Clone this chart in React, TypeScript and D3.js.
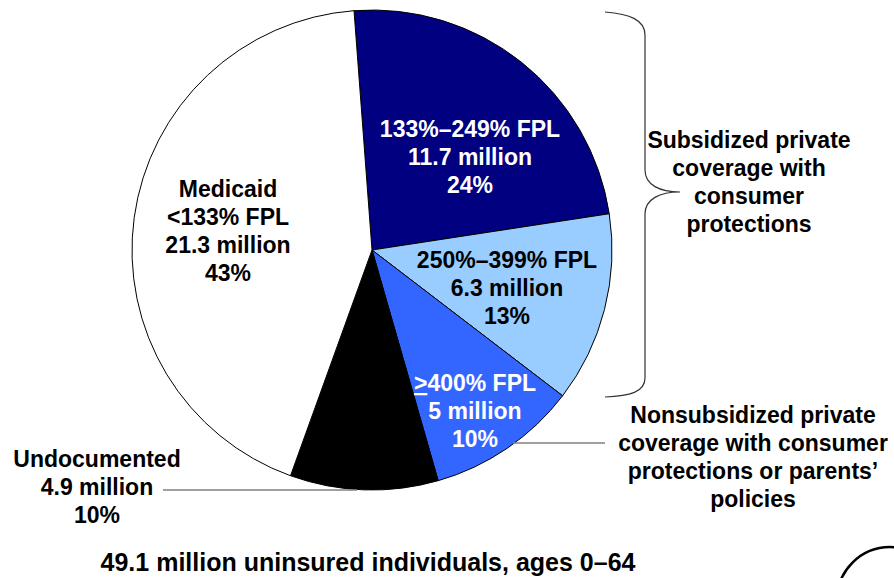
import React from 'react';
import * as d3 from 'd3';

const W = 894;
const H = 578;

// slices, clockwise from the top
const categories = ['133%–249% FPL', '250%–399% FPL', '>400% FPL', 'Undocumented', 'Medicaid'];
const millions = [11.7, 6.3, 5, 4.9, 21.3];
const shares = ['24%', '13%', '10%', '10%', '43%'];
const colors = ['#000080', '#99ccff', '#3366ff', '#000000', '#ffffff'];

const subsidizedLines = ['Subsidized private', 'coverage with', 'consumer', 'protections'];
const nonsubLines = ['Nonsubsidized private', 'coverage with consumer', 'protections or parents’', 'policies'];
const title = '49.1 million uninsured individuals, ages 0–64';

const font = "Arial, 'Liberation Sans', sans-serif";

const App = () => {
  const cx = 372;
  const cy = 250;
  const r = 240;

  const pie = d3.pie<number>()
    .sort(null)
    .value(d => d)
    .startAngle(-0.075)
    .endAngle(-0.075 + 2 * Math.PI);
  const arcs = pie(millions);
  const arc = d3.arc<d3.PieArcDatum<number>>().innerRadius(0).outerRadius(r);

  const fs = 23;
  const lh = 28;

  // label block anchors (first baseline)
  const textLines = (lines, x, y, fill, key) =>
    lines.map((t, i) => (
      <text key={key + i} x={x} y={y + i * lh} textAnchor="middle" fill={fill}
        fontFamily={font} fontWeight="bold" fontSize={fs}>{t}</text>
    ));

  return (
    <svg width={W} height={H} style={{ position: 'absolute', left: 0, top: 0, background: '#fff' }}>
      <g transform={`translate(${cx},${cy})`}>
        {arcs.map((a, i) => (
          <path key={i} d={arc(a) || ''} fill={colors[i]} stroke="#000" strokeWidth={1} />
        ))}
      </g>

      {textLines([categories[0], `${millions[0]} million`, shares[0]], 470, 137, '#fff', 'a')}
      {textLines([categories[1], `${millions[1]} million`, shares[1]], 507, 268, '#000', 'b')}
      <text x={475} y={391} textAnchor="middle" fill="#fff" fontFamily={font} fontWeight="bold" fontSize={fs}>
        <tspan style={{ textDecoration: 'underline' }}>&gt;</tspan>400% FPL
      </text>
      {textLines([`${millions[2]} million`, shares[2]], 475, 419, '#fff', 'c')}
      {textLines(['Medicaid', '<133% FPL', `${millions[4]} million`, shares[4]], 228, 197, '#000', 'm')}
      {textLines([categories[3], `${millions[3]} million`, shares[3]], 97, 467, '#000', 'u')}

      <line x1={163} y1={490} x2={357} y2={490} stroke="#808080" strokeWidth={1.5} />
      <line x1={513} y1={443} x2={605} y2={443} stroke="#808080" strokeWidth={1.5} />

      <path d="M605,12 C630,14 645,20 645,35 L645,170 C645,185 660,192 680,192 C660,192 645,199 645,214 L645,378 C645,392 630,396 605,397"
        fill="none" stroke="#333" strokeWidth={1.2} />

      {textLines(subsidizedLines, 749, 148, '#000', 's')}
      {textLines(nonsubLines, 753, 423, '#000', 'n')}

      <text x={368} y={571} textAnchor="middle" fontFamily={font} fontWeight="bold" fontSize={25}>{title}</text>

      <circle cx={890} cy={600} r={53} fill="none" stroke="#000" strokeWidth={2.5} />
    </svg>
  );
};

export default App;
